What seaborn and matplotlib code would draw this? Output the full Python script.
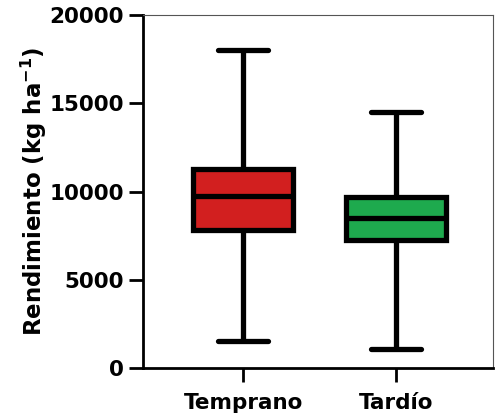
import matplotlib
matplotlib.use("Agg")
import matplotlib.pyplot as plt
import seaborn as sns
import pandas as pd

# Box statistics: min, Q1, median, Q3, max
categories = ["Temprano", "Tardío"]
temprano_stats = [1550, 7800, 9750, 11250, 18000]
tardio_stats = [1050, 7250, 8500, 9700, 14500]
colors = ["#D21F1F", "#1EAA4E"]
yticks = [0, 5000, 10000, 15000, 20000]

sns.set_style("white")
plt.rcParams["font.family"] = ["DejaVu Sans"]
plt.rcParams["mathtext.fontset"] = "dejavusans"
plt.rcParams["mathtext.default"] = "bf"
plt.rcParams["text.color"] = "black"
plt.rcParams["axes.labelcolor"] = "black"
plt.rcParams["xtick.color"] = "black"
plt.rcParams["ytick.color"] = "black"

df = pd.DataFrame({
    "grupo": [categories[0]] * 5 + [categories[1]] * 5,
    "valor": temprano_stats + tardio_stats,
})

fig = plt.figure(figsize=(4.95, 4.18), dpi=100)
ax = fig.add_axes([0.289, 0.1196, 0.706, 0.8445])

lw = 3.8
sns.boxplot(data=df, x="grupo", y="valor", hue="grupo", order=categories,
            palette=colors, saturation=1, whis=(0, 100), width=0.65, ax=ax,
            legend=False, linewidth=lw, linecolor="black", showfliers=False,
            boxprops=dict(edgecolor="black", linewidth=lw),
            medianprops=dict(color="black", linewidth=lw),
            whiskerprops=dict(color="black", linewidth=lw),
            capprops=dict(color="black", linewidth=lw))

ax.set_ylim(0, 20000)
ax.set_xlim(-0.654, 1.63)
ax.set_yticks(yticks)
ax.set_yticklabels([str(t) for t in yticks], fontsize=15.5, fontweight="bold",
                   color="black")
ax.set_xticks([0, 1])
ax.set_xticklabels(categories, fontsize=15.5, fontweight="bold", color="black")
ax.set_xlabel("")
ax.set_ylabel(r"Rendimiento (kg ha$^{-1}$)", fontsize=16.5, fontweight="bold",
              color="black", labelpad=0)
ax.tick_params(axis="both", direction="out", length=10, width=2, color="black",
               left=True, bottom=True)
ax.tick_params(axis="y", pad=4)
ax.tick_params(axis="x", pad=8)

for s in ["left", "bottom"]:
    ax.spines[s].set_color("black")
    ax.spines[s].set_linewidth(2)
for s in ["top", "right"]:
    ax.spines[s].set_color("#555555")
    ax.spines[s].set_linewidth(0.8)

fig.savefig("out.png", dpi=100)
